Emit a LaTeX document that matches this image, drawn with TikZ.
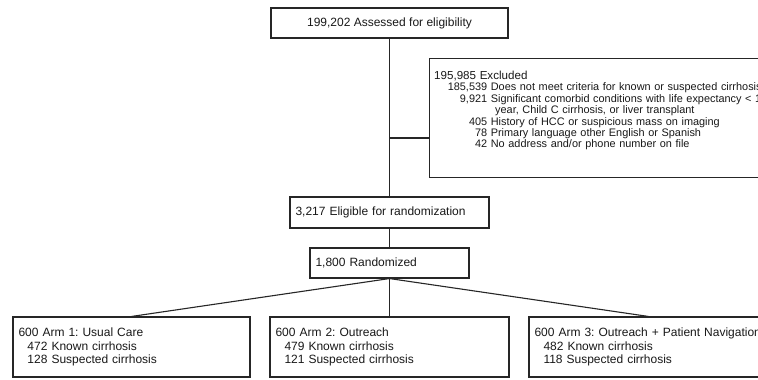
\documentclass[tikz,border=0pt]{standalone}
\usepackage{fontspec}
\setmainfont{Liberation Sans}
\frenchspacing
\begin{document}
\begin{tikzpicture}[x=1pt,y=-1pt,
  box/.style={draw=black!85, line width=1.1pt, inner sep=0pt, text=black!90},
  boxl/.style={box, align=left, inner xsep=5.5pt},
  main/.style={font=\fontsize{12}{14}\selectfont},
  armtxt/.style={font=\fontsize{12}{13.8}\selectfont},
  conn/.style={draw=black!85, line width=1.1pt}]
\useasboundingbox (0,0) rectangle (758,380);
\clip (0,0) rectangle (758,380);
\fill[white] (0,0) rectangle (758,380);

\node[box, main, minimum width=237pt, minimum height=30pt] (assess) at (389.5,23) {199,202 Assessed for eligibility};

\node[box, minimum width=360pt, minimum height=119pt, anchor=north west] (excl) at (429,58) {};
\node[anchor=base west, inner sep=0pt, text width=400pt, align=left, text=black!90,
      font=\fontsize{10.9}{11.4}\selectfont] (excltxt) at (434,79.5)
  {{\fontsize{11.6}{11.4}\selectfont 195,985 Excluded}\\
   \makebox[53pt][r]{185,539} Does not meet criteria for known or suspected cirrhosis\\
   \makebox[53pt][r]{9,921} Significant comorbid conditions with life expectancy < 1\\
   \hspace*{61pt}year, Child C cirrhosis, or liver transplant\\
   \makebox[53pt][r]{405} History of HCC or suspicious mass on imaging\\
   \makebox[53pt][r]{78} Primary language other English or Spanish\\
   \makebox[53pt][r]{42} No address and/or phone number on file};

\node[boxl, main, minimum height=31pt, text width=188pt] (elig) at (389.5,212.5) {3,217 Eligible for randomization};
\node[boxl, main, minimum height=30pt, text width=148pt] (rand) at (389.5,263) {1,800 Randomized};

\node[boxl, armtxt, minimum height=60pt, text width=226pt] (arm1) at (131.5,347)
  {600 Arm 1: Usual Care\\\hspace*{9pt}472 Known cirrhosis\\\hspace*{9pt}128 Suspected cirrhosis};
\node[boxl, armtxt, minimum height=60pt, text width=228pt] (arm2) at (389.5,347)
  {600 Arm 2: Outreach\\\hspace*{9pt}479 Known cirrhosis\\\hspace*{9pt}121 Suspected cirrhosis};
\node[boxl, armtxt, minimum height=60pt, text width=228pt] (arm3) at (648.5,347)
  {\makebox[0pt][l]{600 Arm 3: Outreach + Patient Navigation}\\\hspace*{9pt}482 Known cirrhosis\\\hspace*{9pt}118 Suspected cirrhosis};

\coordinate (brk) at (389.5,138);
\draw[conn] (assess.south) -- (elig.north);
\draw[conn] (brk) -- (brk -| excl.west);
\draw[conn] (elig.south) -- (rand.north);
\draw[conn] (rand.south) -- (arm1.north);
\draw[conn] (rand.south) -- (arm2.north);
\draw[conn] (rand.south) -- (arm3.north);
\end{tikzpicture}
\end{document}
